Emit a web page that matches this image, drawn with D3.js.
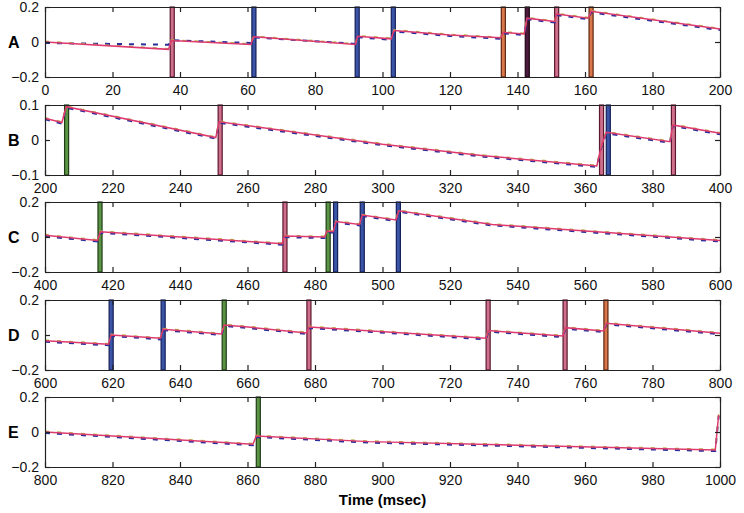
<!DOCTYPE html>
<html>
<head>
<meta charset="utf-8">
<script src="https://cdn.jsdelivr.net/npm/d3@7"></script>
<style>
  body { margin: 0; background: #fff; }
  svg { display: block; font-family: "Liberation Sans", Arial, sans-serif; }
  .axis path, .axis line { stroke: #222; stroke-width: 1.2; }
  .axis text { font-size: 14px; fill: #111; }
</style>
</head>
<body>
<div id="chart"></div>
<script>
var panelLabels = ["A", "B", "C", "D", "E"];
var panelRanges = [[0, 200], [200, 400], [400, 600], [600, 800], [800, 1000]];
var yRanges = [[-0.2, 0.2], [-0.1, 0.1], [-0.2, 0.2], [-0.2, 0.2], [-0.2, 0.2]];
var yTicks = [[-0.2, 0, 0.2], [-0.1, 0, 0.1], [-0.2, 0, 0.2], [-0.2, 0, 0.2], [-0.2, 0, 0.2]];

// spike times (msec) and colour class
var spikesA = [[37.7, "red"], [61.9, "blue"], [92.5, "blue"], [103.2, "blue"], [135.8, "orange"], [142.9, "dark"], [151.6, "red"], [161.8, "orange"]];
var spikesB = [[206.4, "green"], [251.9, "red"], [364.9, "red"], [366.9, "blue"], [386.2, "red"]];
var spikesC = [[416.3, "green"], [471.1, "red"], [483.9, "green"], [486.1, "blue"], [494.0, "blue"], [504.7, "blue"]];
var spikesD = [[619.6, "blue"], [635.0, "blue"], [653.1, "green"], [678.2, "red"], [731.3, "red"], [754.1, "red"], [766.2, "orange"]];
var spikesE = [[863.2, "green"]];

// membrane traces [time, value]
var traceA = [[0, 0], [36.6, -0.042], [37.4, 0.008], [61, -0.014], [61.8, 0.03], [92, -0.014], [92.6, 0.033], [102.6, 0.018], [103.4, 0.066], [120, 0.04], [135, 0.024], [135.8, 0.055], [142, 0.046], [142.8, 0.136], [151, 0.117], [151.6, 0.16], [161, 0.136], [161.8, 0.175], [200, 0.074]];
var blueA = [[0, 0], [36.6, -0.01], [37.4, 0.016], [61, 0], [61.8, 0.032], [92, -0.005], [92.6, 0.033], [102.6, 0.018], [103.4, 0.066], [120, 0.04], [135, 0.024], [135.8, 0.055], [142, 0.046], [142.8, 0.136], [151, 0.117], [151.6, 0.16], [161, 0.136], [161.8, 0.175], [200, 0.074]];
var traceB = [[200, 0.062], [205, 0.05], [206.3, 0.095], [250.6, 0.007], [251.6, 0.052], [300, -0.012], [330, -0.045], [363.5, -0.074], [364.8, -0.019], [366.3, 0.022], [385.2, -0.005], [386, 0.043], [400, 0.019]];
var traceC = [[400, 0.01], [415.6, -0.02], [416.4, 0.03], [470.2, -0.038], [471, 0.005], [482.8, 0.0], [483.6, 0.034], [485.4, 0.03], [486.2, 0.088], [493.2, 0.072], [494, 0.125], [504, 0.097], [504.8, 0.15], [532.5, 0.072], [600, -0.02]];
var traceD = [[600, -0.033], [618.8, -0.053], [619.6, 0], [634.2, -0.019], [635, 0.033], [652.3, 0.006], [653.1, 0.057], [659.3, 0.047], [677.5, 0.012], [678.3, 0.046], [730.6, -0.019], [731.4, 0.025], [753.4, -0.006], [754.2, 0.042], [765.5, 0.023], [766.3, 0.067], [800, 0.01]];
var traceE = [[800, 0], [861.6, -0.07], [862.6, -0.023], [896, -0.055], [998.6, -0.103], [999.6, 0.097]];

var spikes = [spikesA, spikesB, spikesC, spikesD, spikesE];
var traces = [traceA, traceB, traceC, traceD, traceE];
var blues = [blueA, traceB, traceC, traceD, traceE];

var spikeFill = { red: "#cf6f8c", blue: "#3a54a6", green: "#5b9444", orange: "#d8774a", dark: "#4a1a3c" };
var spikeEdge = { red: "#5a1830", blue: "#151f5a", green: "#1f3d16", orange: "#5e2410", dark: "#1e0614" };

var svgWidth = 744, svgHeight = 513;
var left = 45, right = 720, ph = 70;
var tops = [7, 105, 202, 300, 397];

var svg = d3.select("#chart").append("svg")
  .attr("width", svgWidth)
  .attr("height", svgHeight);

panelLabels.forEach(function(lab, i) {
  var top = tops[i];
  var x = d3.scaleLinear().domain(panelRanges[i]).range([left, right]);
  var y = d3.scaleLinear().domain(yRanges[i]).range([top + ph, top]);
  var g = svg.append("g");

  // spikes
  g.selectAll("rect.spike")
    .data(spikes[i])
    .enter().append("rect")
    .attr("class", "spike")
    .attr("x", function(d) { return x(d[0] - 0.6); })
    .attr("width", function(d) { return x(d[0] + 0.6) - x(d[0] - 0.6); })
    .attr("y", top)
    .attr("height", ph)
    .attr("fill", function(d) { return spikeFill[d[1]]; })
    .attr("stroke", function(d) { return spikeEdge[d[1]]; })
    .attr("stroke-width", 1.2);

  var line = d3.line()
    .x(function(d) { return x(d[0]); })
    .y(function(d) { return y(d[1]); });

  // blue trace sits just under the red one
  g.append("path")
    .datum(blues[i])
    .attr("d", line)
    .attr("transform", "translate(0,1)")
    .attr("fill", "none")
    .attr("stroke", "#2b2f9c")
    .attr("stroke-width", 2)
    .attr("stroke-dasharray", "5,7");

  g.append("path")
    .datum(traces[i])
    .attr("d", line)
    .attr("transform", "translate(0,-0.6)")
    .attr("fill", "none")
    .attr("stroke", "#b8b04a")
    .attr("stroke-width", 1.6)
    .attr("stroke-dasharray", "4,8");

  g.append("path")
    .datum(traces[i])
    .attr("d", line)
    .attr("fill", "none")
    .attr("stroke", "#de3a6e")
    .attr("stroke-width", 1.5);

  // axes, ticks pointing inward
  g.append("g")
    .attr("class", "axis")
    .attr("transform", "translate(0," + (top + ph) + ")")
    .call(d3.axisBottom(x).ticks(10).tickSizeInner(-5).tickSizeOuter(0).tickPadding(8).tickFormat(d3.format("d")));

  g.append("g")
    .attr("class", "axis")
    .attr("transform", "translate(0," + top + ")")
    .call(d3.axisTop(x).ticks(10).tickSizeInner(-5).tickSizeOuter(0).tickFormat(""));

  g.append("g")
    .attr("class", "axis")
    .attr("transform", "translate(" + left + ",0)")
    .call(d3.axisLeft(y).tickValues(yTicks[i]).tickSizeInner(-5).tickSizeOuter(0).tickPadding(6)
      .tickFormat(function(d) { return d === 0 ? "0" : d3.format(".1f")(d); }));

  g.append("g")
    .attr("class", "axis")
    .attr("transform", "translate(" + right + ",0)")
    .call(d3.axisRight(y).tickValues(yTicks[i]).tickSizeInner(-5).tickSizeOuter(0).tickFormat(""));

  g.selectAll(".axis text").attr("font-family", null).attr("font-size", null);

  g.append("text")
    .attr("x", 8)
    .attr("y", y(0))
    .attr("dy", "0.35em")
    .attr("font-size", 16)
    .attr("font-weight", "bold")
    .text(lab);
});

svg.append("text")
  .attr("x", (left + right) / 2)
  .attr("y", 505)
  .attr("text-anchor", "middle")
  .attr("font-size", 15)
  .attr("font-weight", "bold")
  .text("Time (msec)");
</script>
</body>
</html>
